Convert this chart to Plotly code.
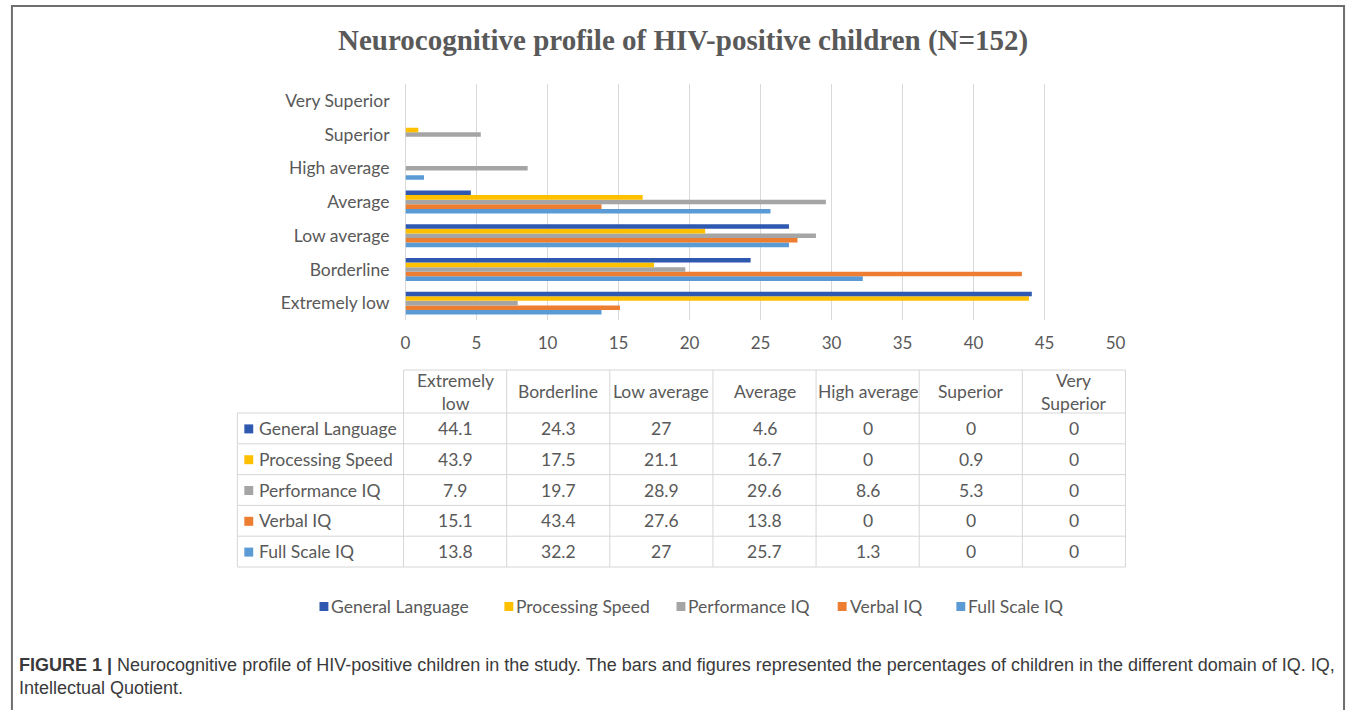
import plotly.graph_objects as go

categories = ["Extremely low", "Borderline", "Low average", "Average",
              "High average", "Superior", "Very Superior"]
header_labels = ["Extremely<br>low", "Borderline", "Low average", "Average",
                 "High average", "Superior", "Very<br>Superior"]

series_names = ["General Language", "Processing Speed", "Performance IQ",
                "Verbal IQ", "Full Scale IQ"]
general_language = [44.1, 24.3, 27, 4.6, 0, 0, 0]
processing_speed = [43.9, 17.5, 21.1, 16.7, 0, 0.9, 0]
performance_iq = [7.9, 19.7, 28.9, 29.6, 8.6, 5.3, 0]
verbal_iq = [15.1, 43.4, 27.6, 13.8, 0, 0, 0]
full_scale_iq = [13.8, 32.2, 27, 25.7, 1.3, 0, 0]
series_values = [general_language, processing_speed, performance_iq,
                 verbal_iq, full_scale_iq]
series_colors = ["#2F58B0", "#FFC000", "#A5A5A5", "#ED7D31", "#5B9BD5"]

title_text = "Neurocognitive profile of HIV-positive children (N=152)"
caption_text = ("<b>FIGURE 1 |</b> Neurocognitive profile of HIV-positive children in the study. "
                "The bars and figures represented the percentages of children in the different domain of IQ. IQ,"
                "<br>Intellectual Quotient.")

W, H = 1357, 710
def px(x):
    return x / W
def py(y):
    return 1 - y / H

GRAY = "#595959"
FONT = "Lato"
FS = 17.5
LINE = "#D6D6D6"

fig = go.Figure()

# bars: add in reverse so General Language sits on top of each group
for name, vals, col in reversed(list(zip(series_names, series_values, series_colors))):
    fig.add_trace(go.Bar(
        y=categories, x=vals, name=name, orientation="h",
        marker=dict(color=col, line=dict(width=0)),
        hoverinfo="x+name",
    ))

annotations = []
shapes = []

# ---- data table (drawn with shapes + annotations) ----
tbl_left, lbl_right, tbl_right = 235, 403, 1133
hdr_top, hdr_bot, row_h = 370, 413, 30.8
ncat = len(categories)
col_w = (tbl_right - lbl_right) / ncat
nrows = len(series_names)
tbl_bot = hdr_bot + nrows * row_h

def hline(y, x0, x1):
    shapes.append(dict(type="line", xref="paper", yref="paper",
                       x0=px(x0), x1=px(x1), y0=py(y), y1=py(y),
                       line=dict(color=LINE, width=1)))
def vline(x, y0, y1):
    shapes.append(dict(type="line", xref="paper", yref="paper",
                       x0=px(x), x1=px(x), y0=py(y0), y1=py(y1),
                       line=dict(color=LINE, width=1)))

hline(hdr_top, lbl_right, tbl_right)
for r in range(nrows + 1):
    hline(hdr_bot + r * row_h, tbl_left, tbl_right)
vline(tbl_left, hdr_bot, tbl_bot)
for c in range(ncat + 1):
    vline(lbl_right + c * col_w, hdr_top, tbl_bot)

for c, lab in enumerate(header_labels):
    annotations.append(dict(text=lab, x=px(lbl_right + (c + 0.5) * col_w),
                            y=py((hdr_top + hdr_bot) / 2), xref="paper", yref="paper",
                            xanchor="center", yanchor="middle", showarrow=False,
                            font=dict(family=FONT, size=FS, color=GRAY)))

for r, (name, vals, col) in enumerate(zip(series_names, series_values, series_colors)):
    yc = hdr_bot + (r + 0.5) * row_h
    shapes.append(dict(type="rect", xref="paper", yref="paper",
                       x0=px(242), x1=px(251), y0=py(yc + 5), y1=py(yc - 4),
                       fillcolor=col, line=dict(width=0)))
    annotations.append(dict(text=name, x=px(255), y=py(yc), xref="paper", yref="paper",
                            xanchor="left", yanchor="middle", showarrow=False,
                            font=dict(family=FONT, size=FS, color=GRAY)))
    for c, v in enumerate(vals):
        annotations.append(dict(text=f"{v:g}", x=px(lbl_right + (c + 0.5) * col_w),
                                y=py(yc), xref="paper", yref="paper",
                                xanchor="center", yanchor="middle", showarrow=False,
                                font=dict(family=FONT, size=FS, color=GRAY)))

# ---- legend (manual, to match spacing) ----
legend_x = [318, 505, 679, 842, 962]
for name, col, lx in zip(series_names, series_colors, legend_x):
    shapes.append(dict(type="rect", xref="paper", yref="paper",
                       x0=px(lx), x1=px(lx + 9), y0=py(611), y1=py(602),
                       fillcolor=col, line=dict(width=0)))
    annotations.append(dict(text=name, x=px(lx + 10), y=py(606), xref="paper", yref="paper",
                            xanchor="left", yanchor="middle", showarrow=False,
                            font=dict(family=FONT, size=FS, color=GRAY)))

# ---- title and caption ----
annotations.append(dict(text=f"<b>{title_text}</b>",
                        x=px(686), y=py(40), xref="paper", yref="paper",
                        xanchor="center", yanchor="middle", showarrow=False,
                        font=dict(family="Liberation Serif", size=29, color=GRAY)))
annotations.append(dict(text=caption_text,
                        x=px(12), y=py(676), xref="paper", yref="paper",
                        xanchor="left", yanchor="middle", align="left", showarrow=False,
                        font=dict(family="Liberation Sans", size=18, color="#3A3A3A")))

# outer frame
shapes.append(dict(type="rect", xref="paper", yref="paper",
                   x0=px(7), x1=px(1354), y0=-0.02, y1=py(6),
                   line=dict(color="#6E6E6E", width=2), fillcolor="rgba(0,0,0,0)",
                   layer="below"))

fig.update_layout(
    width=W, height=H,
    margin=dict(l=0, r=0, t=0, b=0),
    paper_bgcolor="white",
    plot_bgcolor="white",
    barmode="group",
    bargap=0.32,
    bargroupgap=0,
    font=dict(family=FONT, size=FS, color=GRAY),
    showlegend=False,
    xaxis=dict(
        domain=[px(405), px(1123)],
        range=[0, 50], dtick=5,
        showgrid=True, gridcolor="#D9D9D9", gridwidth=1,
        zeroline=True, zerolinecolor="#D9D9D9", zerolinewidth=1,
        showline=False,
        tickfont=dict(family=FONT, size=17, color=GRAY),
        ticklabelstandoff=11,
        anchor="y",
        fixedrange=True,
    ),
    yaxis=dict(
        domain=[py(320), py(84)],
        categoryorder="array", categoryarray=categories,
        showgrid=False, zeroline=False, showline=False,
        tickfont=dict(family=FONT, size=FS, color=GRAY),
        ticklabelstandoff=15,
        anchor="x",
        fixedrange=True,
    ),
    annotations=annotations,
    shapes=shapes,
)

fig.write_html(
    "out.html", config={"displayModeBar": False},
    post_script="document.body.style.margin='0px';",
)
